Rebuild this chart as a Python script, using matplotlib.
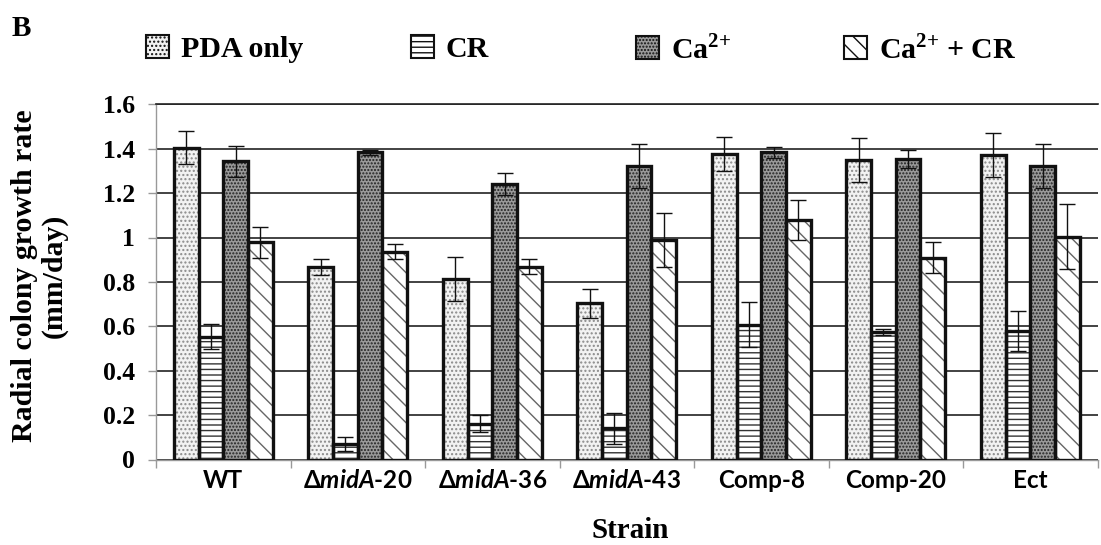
import numpy as np
import matplotlib
matplotlib.use("Agg")
import matplotlib.pyplot as plt
from matplotlib.patches import Patch

strains = ["WT", "Δ$\\mathit{midA}$-20", "Δ$\\mathit{midA}$-36", "Δ$\\mathit{midA}$-43",
           "Comp-8", "Comp-20", "Ect"]
series = ["PDA only", "CR", "Ca$^{\\mathbf{2{+}}}$", "Ca$^{\\mathbf{2{+}}}$ + CR"]

pda = [1.405, 0.868, 0.813, 0.704, 1.376, 1.348, 1.372]
pda_err = [0.075, 0.035, 0.10, 0.065, 0.075, 0.10, 0.10]
cr = [0.554, 0.070, 0.162, 0.141, 0.608, 0.575, 0.578]
cr_err = [0.055, 0.030, 0.040, 0.070, 0.100, 0.013, 0.090]
ca = [1.343, 1.383, 1.242, 1.322, 1.383, 1.353, 1.323]
ca_err = [0.070, 0.013, 0.050, 0.100, 0.025, 0.040, 0.100]
cacr = [0.979, 0.936, 0.869, 0.989, 1.079, 0.908, 1.004]
cacr_err = [0.070, 0.035, 0.035, 0.120, 0.090, 0.070, 0.146]

yticks = [0, 0.2, 0.4, 0.6, 0.8, 1.0, 1.2, 1.4, 1.6]
yticklabels = ["0", "0.2", "0.4", "0.6", "0.8", "1", "1.2", "1.4", "1.6"]

plt.rcParams['mathtext.fontset'] = 'custom'
plt.rcParams['mathtext.rm'] = 'Liberation Serif:bold'
plt.rcParams['mathtext.bf'] = 'Liberation Serif:bold'
plt.rcParams['mathtext.it'] = 'Lato:italic:bold'
plt.rcParams['hatch.linewidth'] = 1.0

SERIF = 'Liberation Serif'

fig = plt.figure(figsize=(11.01, 5.45), dpi=100)
ax = fig.add_axes([156/1101, 1-459.5/545, 941.5/1101, 355.2/545])

styles = [
    dict(face='#f2f2f2', hatch='....', hcol='#8a8a8a'),
    dict(face='white', hatch='---', hcol='#333333'),
    dict(face='#9a9a9a', hatch='.....', hcol='#222222'),
    dict(face='white', hatch='\\\\', hcol='#666666'),
]
vals = [pda, cr, ca, cacr]
errs = [pda_err, cr_err, ca_err, cacr_err]

centers = np.arange(len(strains)) + 0.5
w = 0.184
for i, (v, e, st) in enumerate(zip(vals, errs, styles)):
    x = centers + (i - 1.5) * w
    ax.bar(x, v, width=w, color=st['face'], hatch=st['hatch'], edgecolor=st['hcol'],
           linewidth=0, zorder=2)
    ax.bar(x, v, width=w, fill=False, edgecolor='#111111', linewidth=2.4, zorder=3)
    ax.errorbar(x, v, yerr=e, fmt='none', ecolor='#111111', elinewidth=1.0,
                capsize=6, capthick=1.0, zorder=4)

ax.set_xlim(0, len(strains))
ax.set_ylim(0, 1.6)
ax.set_yticks(yticks)
ax.set_yticklabels(yticklabels, fontfamily=SERIF, fontweight='bold', fontsize=18.5)
ax.set_xticks(np.arange(len(strains) + 1))
ax.set_xticklabels([])
ax.set_xticks(centers, minor=True)
ax.set_xticklabels(strains, minor=True, fontfamily=['Lato', 'DejaVu Sans'],
                   fontweight='bold', fontsize=17.5)
ax.tick_params(axis='x', which='minor', length=0, pad=7)
ax.tick_params(axis='x', which='major', length=6, color='#999999', width=1)
ax.tick_params(axis='y', length=6, color='#999999', width=1, pad=9)

ax.yaxis.grid(True, color='#222222', linewidth=1.2)
ax.set_axisbelow(True)
ax.spines['right'].set_visible(False)
ax.spines['top'].set_color('#222222')
ax.spines['top'].set_linewidth(1.2)
ax.spines['left'].set_color('#999999')
ax.spines['bottom'].set_color('#999999')
ax.spines['left'].set_linewidth(1)
ax.spines['bottom'].set_linewidth(1)

fig.text(39.5/1101, 1-276/545, "Radial colony growth rate\n(mm/day)", rotation=90,
         ha='center', va='center', multialignment='center',
         fontfamily=SERIF, fontweight='bold', fontsize=21.5, linespacing=1.15)
fig.text(630/1101, 1-531/545, "Strain", ha='center', va='center',
         fontfamily=SERIF, fontweight='bold', fontsize=21)
fig.text(21/1101, 1-28/545, "B", ha='center', va='center',
         fontfamily=SERIF, fontweight='bold', fontsize=21)

leg_x = [145.6, 410.5, 636, 844]
for lab, st, lx in zip(series, styles, leg_x):
    h = Patch(facecolor=st['face'], hatch=st['hatch'], edgecolor='#111111', linewidth=1.5)
    fig.legend(handles=[h], labels=[lab], loc='center left',
               bbox_to_anchor=(lx/1101, 1-49/545), frameon=False,
               handlelength=0.78, handleheight=0.78, handletextpad=0.4,
               borderpad=0, borderaxespad=0,
               prop=dict(family=SERIF, weight='bold', size=21.5))

fig.savefig("out.png", dpi=100)
